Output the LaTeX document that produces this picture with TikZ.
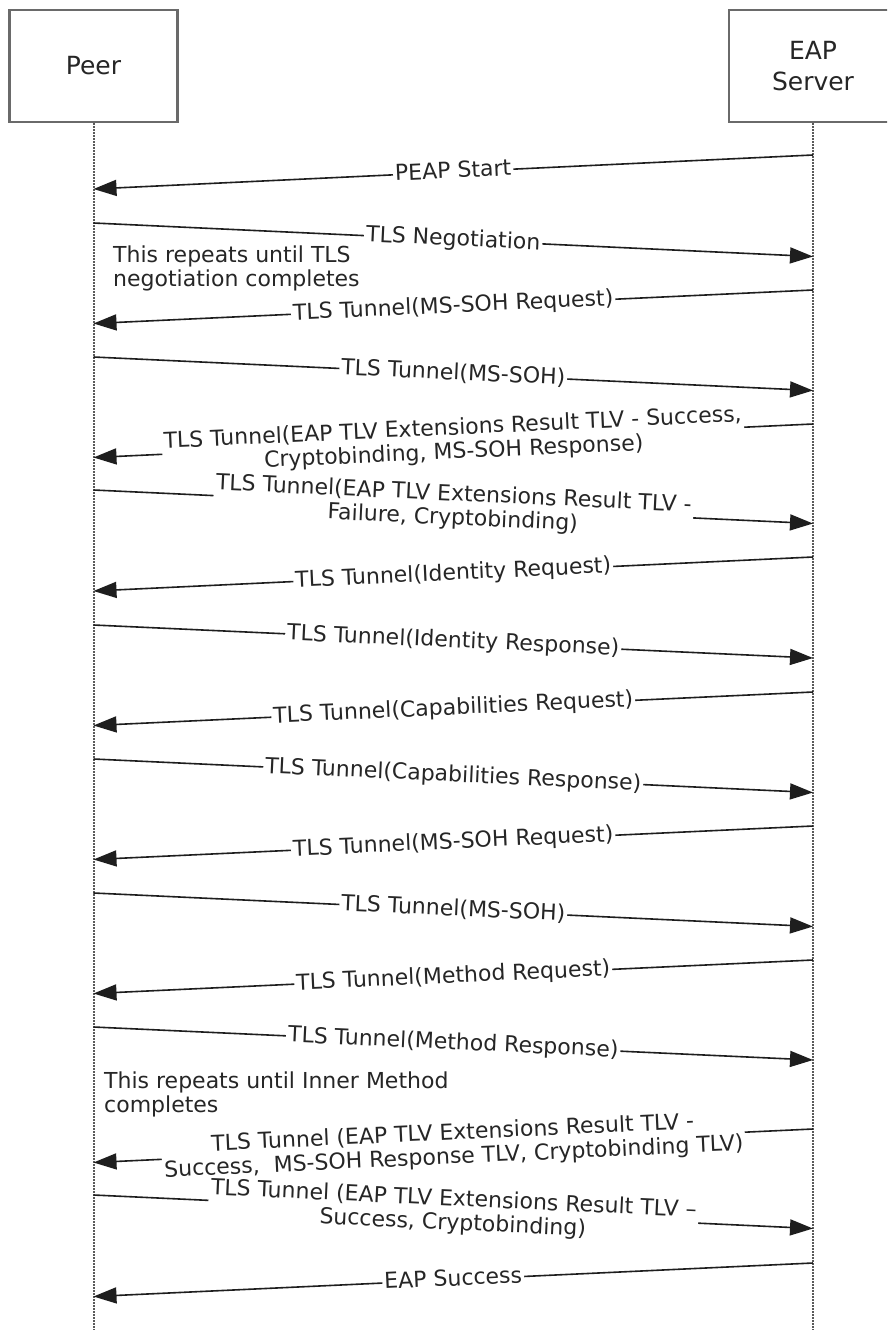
\documentclass[tikz,border=0pt]{standalone}
\usepackage{fontspec}
\setmainfont{DejaVu Sans}
\usetikzlibrary{arrows.meta}
\definecolor{boxgray}{HTML}{6A6A6A}
\definecolor{lifegray}{HTML}{5A5A5A}
\definecolor{linegray}{HTML}{1E1E1E}
\definecolor{txtgray}{HTML}{262626}
\begin{document}
\begin{tikzpicture}[x=1pt,y=-1pt,
  actor/.style={draw=boxgray, line width=2.2pt, fill=white, minimum width=168pt, minimum height=112pt,
    align=center, text=txtgray, font=\fontsize{25}{31}\selectfont},
  life/.style={draw=lifegray, line width=2pt, dash pattern=on 1.5pt off 1.5pt},
  msg/.style={draw=linegray, line width=1.6pt, -{Triangle[length=23pt,width=16pt]}},
  lab/.style={fill=white, inner xsep=2pt, inner ysep=1pt, text height=16pt, text depth=4pt,
    text=txtgray, font=\fontsize{22}{25}\selectfont, sloped, pos=0.5},
  labtwo/.style={fill=white, inner xsep=2pt, inner ysep=0pt, align=center,
    text=txtgray, font=\fontsize{22}{24}\selectfont, sloped, pos=0.5},
  note/.style={anchor=north west, inner sep=0pt, align=left, text=txtgray,
    font=\fontsize{22}{24}\selectfont}]
\useasboundingbox (0,0) rectangle (887,1330);
\clip (0,0) rectangle (887,1330);
\fill[white] (0,0) rectangle (887,1330);

% actors
\node[actor] (peer) at (93.5,66) {Peer};
\node[actor] (server) at (813,66) {EAP\\Server};
\coordinate (peerbot) at (93.5,1332);
\coordinate (serverbot) at (813,1332);
\draw[life] (peer.south) -- (peerbot);
\draw[life] (server.south) -- (serverbot);

% end points of messages
\coordinate (s1) at (813,155);   \coordinate (p1) at (93.5,189);
\coordinate (p2) at (93.5,223);  \coordinate (s2) at (813,256.5);
\coordinate (s3) at (813,290);   \coordinate (p3) at (93.5,323.5);
\coordinate (p4) at (93.5,357);  \coordinate (s4) at (813,390.5);
\coordinate (s5) at (813,424);   \coordinate (p5) at (93.5,457.5);
\coordinate (p6) at (93.5,490);  \coordinate (s6) at (813,523.5);
\coordinate (s7) at (813,557);   \coordinate (p7) at (93.5,591);
\coordinate (p8) at (93.5,625);  \coordinate (s8) at (813,658);
\coordinate (s9) at (813,692);   \coordinate (p9) at (93.5,725.5);
\coordinate (p10) at (93.5,759); \coordinate (s10) at (813,792.5);
\coordinate (s11) at (813,826);  \coordinate (p11) at (93.5,859.5);
\coordinate (p12) at (93.5,893); \coordinate (s12) at (813,926.5);
\coordinate (s13) at (813,960);  \coordinate (p13) at (93.5,993.5);
\coordinate (p14) at (93.5,1027);\coordinate (s14) at (813,1060);
\coordinate (s15) at (813,1129); \coordinate (p15) at (93.5,1162.5);
\coordinate (p16) at (93.5,1195);\coordinate (s16) at (813,1228.5);
\coordinate (s17) at (813,1263); \coordinate (p17) at (93.5,1296.5);

% messages
\draw[msg] (s1) -- node[lab] (l1) {PEAP Start} (p1);
\draw[msg] (p2) -- node[lab] (l2) {TLS Negotiation} (s2);
\draw[msg] (s3) -- node[lab] (l3) {TLS Tunnel(MS-SOH Request)} (p3);
\draw[msg] (p4) -- node[lab] (l4) {TLS Tunnel(MS-SOH)} (s4);
\draw[msg] (s5) -- node[labtwo] (l5) {TLS Tunnel(EAP TLV Extensions Result TLV - Success,\\Cryptobinding, MS-SOH Response)} (p5);
\draw[msg] (p6) -- node[labtwo] (l6) {TLS Tunnel(EAP TLV Extensions Result TLV -\\Failure, Cryptobinding)} (s6);
\draw[msg] (s7) -- node[lab] (l7) {TLS Tunnel(Identity Request)} (p7);
\draw[msg] (p8) -- node[lab] (l8) {TLS Tunnel(Identity Response)} (s8);
\draw[msg] (s9) -- node[lab] (l9) {TLS Tunnel(Capabilities Request)} (p9);
\draw[msg] (p10) -- node[lab] (l10) {TLS Tunnel(Capabilities Response)} (s10);
\draw[msg] (s11) -- node[lab] (l11) {TLS Tunnel(MS-SOH Request)} (p11);
\draw[msg] (p12) -- node[lab] (l12) {TLS Tunnel(MS-SOH)} (s12);
\draw[msg] (s13) -- node[lab] (l13) {TLS Tunnel(Method Request)} (p13);
\draw[msg] (p14) -- node[lab] (l14) {TLS Tunnel(Method Response)} (s14);
\draw[msg] (s15) -- node[labtwo] (l15) {TLS Tunnel (EAP TLV Extensions Result TLV -\\Success,\ \ MS-SOH Response TLV, Cryptobinding TLV)} (p15);
\draw[msg] (p16) -- node[labtwo] (l16) {TLS Tunnel (EAP TLV Extensions Result TLV –\\Success, Cryptobinding)} (s16);
\draw[msg] (s17) -- node[lab] (l17) {EAP Success} (p17);

% notes
\node[note] (n1) at (113,246) {This repeats until TLS\\negotiation completes};
\node[note] (n2) at (104,1072) {This repeats until Inner Method\\completes};
\end{tikzpicture}
\end{document}
